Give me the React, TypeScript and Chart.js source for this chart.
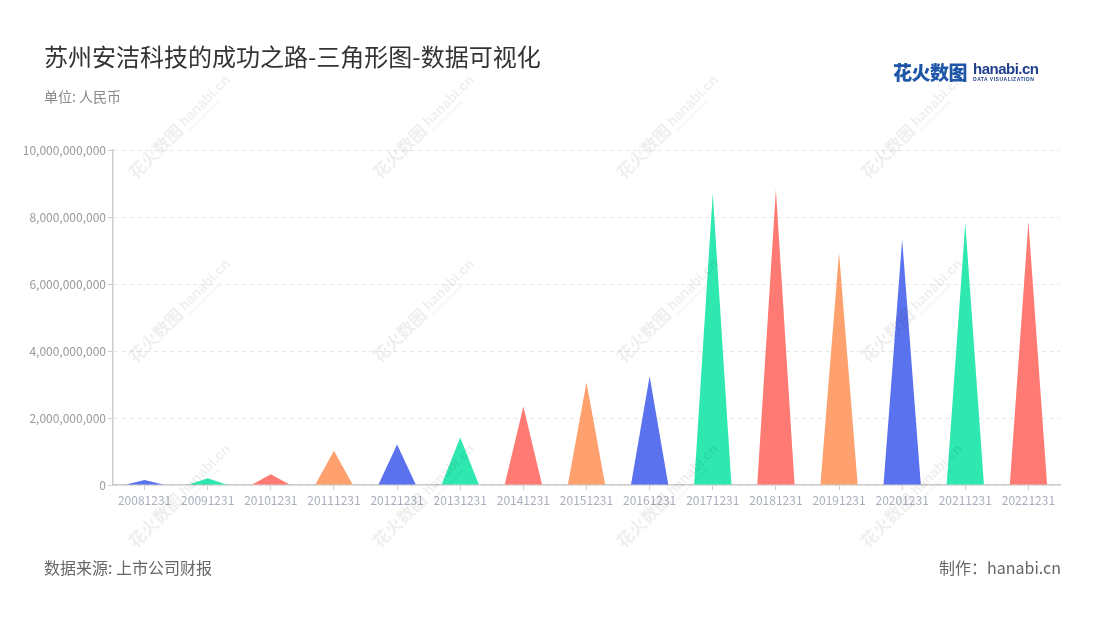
import React, { useEffect, useRef } from "react";
import { Chart, registerables } from "chart.js";

Chart.register(...registerables);

const categories = [
  "20081231", "20091231", "20101231", "20111231", "20121231",
  "20131231", "20141231", "20151231", "20161231", "20171231",
  "20181231", "20191231", "20201231", "20211231", "20221231",
];
const values = [
  150000000, 200000000, 320000000, 1020000000, 1210000000,
  1420000000, 2340000000, 3070000000, 3250000000, 8710000000,
  8810000000, 6930000000, 7330000000, 7810000000, 7860000000,
];
const palette = ["#5a72ee", "#2ee8b0", "#ff7a72", "#ffa16e"];
const yTicks = [0, 2000000000, 4000000000, 6000000000, 8000000000, 10000000000];

const FONT = '"Noto Sans CJK SC", "Noto Sans", sans-serif';

const trianglePlugin = {
  id: "triangles",
  afterDatasetsDraw(chart: any) {
    const ctx = chart.ctx;
    const meta = chart.getDatasetMeta(0);
    meta.data.forEach((el: any, i: number) => {
      const p = el.getProps(["x", "y", "base", "width"], true);
      ctx.save();
      ctx.fillStyle = palette[i % palette.length];
      ctx.beginPath();
      ctx.moveTo(p.x - p.width / 2, p.base);
      ctx.lineTo(p.x, p.y);
      ctx.lineTo(p.x + p.width / 2, p.base);
      ctx.closePath();
      ctx.fill();
      ctx.restore();
    });
  },
};

const watermarkPlugin = {
  id: "watermark",
  afterDraw(chart: any) {
    const ctx = chart.ctx;
    const xs = [136, 380, 624, 868];
    const ys = [180, 364, 549];
    ctx.save();
    ctx.fillStyle = "rgba(0,0,0,0.065)";
    xs.forEach((x) => {
      ys.forEach((y) => {
        ctx.save();
        ctx.translate(x, y);
        ctx.rotate(-Math.PI / 4);
        ctx.textBaseline = "alphabetic";
        ctx.font = `bold 17px ${FONT}`;
        ctx.fillText("花火数图", 0, 0);
        ctx.font = `bold 14px "Liberation Sans", sans-serif`;
        ctx.fillText("hanabi.cn", 72, -3);
        ctx.font = `bold 4px "Liberation Sans", sans-serif`;
        ctx.fillText("DATA VISUALIZATION", 72, 4);
        ctx.restore();
      });
    });
    ctx.restore();
  },
};

export default function App() {
  const ref = useRef<HTMLCanvasElement>(null);

  useEffect(() => {
    document.body.style.margin = "0";
    const chart = new Chart(ref.current as HTMLCanvasElement, {
      type: "bar",
      data: {
        labels: categories,
        datasets: [
          {
            data: values,
            backgroundColor: "rgba(0,0,0,0)",
            borderWidth: 0,
            barPercentage: 0.59,
            categoryPercentage: 1,
          },
        ],
      },
      options: {
        responsive: false,
        animation: false,
        layout: { padding: { left: 0, top: 150, right: 40, bottom: 105 } },
        plugins: { legend: { display: false }, tooltip: { enabled: false } },
        scales: {
          x: {
            grid: {
              display: true,
              drawOnChartArea: false,
              offset: false,
              tickLength: 5,
              tickColor: "#cccccc",
            },
            border: { color: "#cccccc", width: 1.5 },
            ticks: {
              color: "#a9aebc",
              font: { size: 12, family: FONT },
              maxRotation: 0,
              autoSkip: false,
              padding: 3,
            },
            afterFit: (s: any) => {
              s.height = 30;
            },
          },
          y: {
            min: 0,
            max: 10000000000,
            afterBuildTicks: (s: any) => {
              s.ticks = yTicks.map((v) => ({ value: v }));
            },
            ticks: {
              color: "#999999",
              font: { size: 12, family: FONT },
              padding: 2,
              callback: (v: any) => Number(v).toLocaleString("en-US"),
            },
            grid: {
              color: "#e6e6e6",
              tickLength: 5,
              tickColor: "#cccccc",
              tickBorderDash: [],
            },
            border: { color: "#cccccc", width: 1.5, dash: [4, 4] },
            afterFit: (s: any) => {
              s.width = 113;
            },
          },
        },
      },
      plugins: [trianglePlugin, watermarkPlugin],
    });
    return () => chart.destroy();
  }, []);

  return (
    <div
      style={{
        position: "fixed",
        left: 0,
        top: 0,
        width: 1100,
        height: 620,
        background: "#ffffff",
        overflow: "hidden",
        fontFamily: FONT,
      }}
    >
      <canvas ref={ref} width={1100} height={620} style={{ position: "absolute", left: 0, top: 0 }} />
      <div
        style={{
          position: "absolute",
          left: 44,
          top: 39,
          fontSize: 24,
          lineHeight: "34px",
          color: "#333333",
          whiteSpace: "nowrap",
        }}
      >
        苏州安洁科技的成功之路-三角形图-数据可视化
      </div>
      <div
        style={{
          position: "absolute",
          left: 44,
          top: 86,
          fontSize: 14,
          lineHeight: "20px",
          color: "#888888",
          whiteSpace: "nowrap",
        }}
      >
        单位: 人民币
      </div>
      <div
        style={{
          position: "absolute",
          left: 893,
          top: 58,
          display: "flex",
          alignItems: "center",
          whiteSpace: "nowrap",
        }}
      >
        <span style={{ fontSize: 19, fontWeight: 900, color: "#1f56a8", letterSpacing: -0.5 }}>花火数图</span>
        <span style={{ display: "inline-block", marginLeft: 6, lineHeight: 1 }}>
          <span
            style={{
              display: "block",
              fontFamily: '"Liberation Sans", sans-serif',
              fontWeight: 700,
              fontSize: 15,
              color: "#1f3f8a",
              letterSpacing: -0.5,
            }}
          >
            hanabi.cn
          </span>
          <span
            style={{
              display: "block",
              fontFamily: '"Liberation Sans", sans-serif',
              fontWeight: 700,
              fontSize: 5,
              color: "#1f3f8a",
              letterSpacing: 0.5,
              marginTop: 1,
            }}
          >
            DATA VISUALIZATION
          </span>
        </span>
      </div>
      <div
        style={{
          position: "absolute",
          left: 44,
          top: 556,
          fontSize: 16,
          lineHeight: "22px",
          color: "#666666",
          whiteSpace: "nowrap",
        }}
      >
        数据来源: 上市公司财报
      </div>
      <div
        style={{
          position: "absolute",
          right: 39,
          top: 556,
          fontSize: 16,
          lineHeight: "22px",
          color: "#666666",
          whiteSpace: "nowrap",
        }}
      >
        制作：hanabi.cn
      </div>
    </div>
  );
}
